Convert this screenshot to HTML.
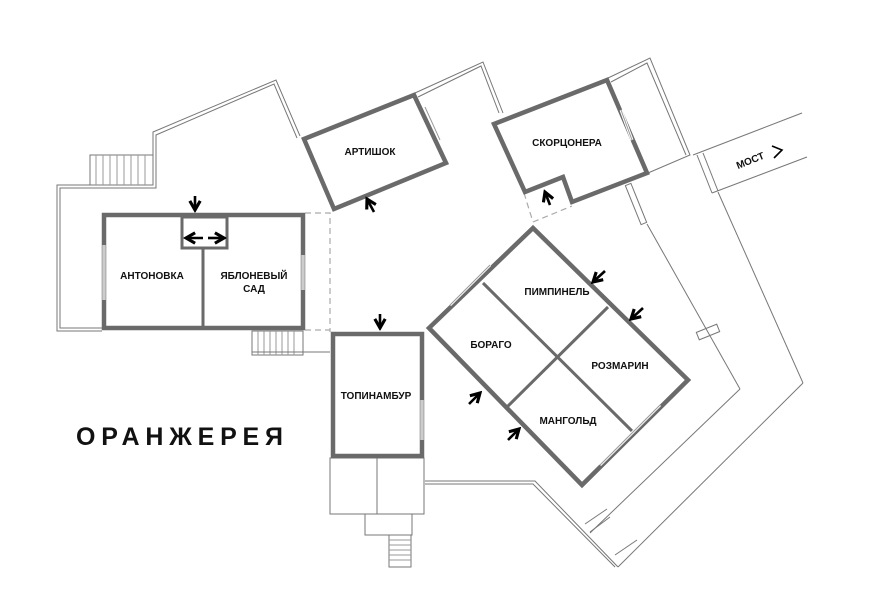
<!DOCTYPE html>
<html><head><meta charset="utf-8"><style>
html,body{margin:0;padding:0;background:#fff}
svg{display:block}
text{font-family:"Liberation Sans",sans-serif;font-weight:bold;fill:#111}
</style></head><body>
<svg width="888" height="606" viewBox="0 0 888 606" xmlns="http://www.w3.org/2000/svg">
<defs>
<marker id="ah" viewBox="0 0 10 10" refX="8" refY="5" markerWidth="5" markerHeight="5" orient="auto"><path d="M1,1 L8,5 L1,9" fill="none" stroke="#000" stroke-width="2.4"/></marker>
</defs>
<g fill="none" stroke="#777" stroke-width="1">
<polyline points="102,331 57,331 57,185 153,185 153,132 276,80 300,136"/>
<polyline points="102,328 60,328 60,188 156,188 156,135 274,84 297,138"/>
<rect x="90" y="155" width="63" height="30"/>
<g stroke="#999"><line x1="96" y1="155" x2="96" y2="185"/><line x1="103" y1="155" x2="103" y2="185"/><line x1="110" y1="155" x2="110" y2="185"/><line x1="117" y1="155" x2="117" y2="185"/><line x1="124" y1="155" x2="124" y2="185"/><line x1="131" y1="155" x2="131" y2="185"/><line x1="138" y1="155" x2="138" y2="185"/><line x1="145" y1="155" x2="145" y2="185"/></g>
<rect x="252" y="331" width="51" height="24"/>
<g stroke="#999"><line x1="258" y1="331" x2="258" y2="355"/><line x1="264" y1="331" x2="264" y2="355"/><line x1="270" y1="331" x2="270" y2="355"/><line x1="276" y1="331" x2="276" y2="355"/><line x1="282" y1="331" x2="282" y2="355"/><line x1="288" y1="331" x2="288" y2="355"/><line x1="294" y1="331" x2="294" y2="355"/></g>
<line x1="252" y1="352" x2="330" y2="352"/>
<polyline points="415,93 483,62 503,113"/>
<polyline points="418,97 481,66 499,113"/>
<polyline points="608,78 650,58 690,155 648,173"/>
<polyline points="611,82 647,63 686,155"/>
<line x1="693" y1="155" x2="802" y2="113"/>
<line x1="712" y1="193" x2="807" y2="157"/>
<line x1="697" y1="155" x2="712" y2="193"/>
<line x1="703" y1="153" x2="718" y2="191"/>
<rect x="633" y="183" width="6" height="42" transform="rotate(-22 636 204)"/>
<line x1="647" y1="224" x2="740" y2="389"/>
<line x1="718" y1="192" x2="803" y2="383"/>
<line x1="740" y1="389" x2="590" y2="533"/>
<rect x="697" y="328" width="22" height="8" transform="rotate(-22 708 332)"/>
<line x1="803" y1="383" x2="618" y2="567"/>
<polyline points="425,481 535,481 618,567"/>
<polyline points="425,484 533,484 615,567"/>
<line x1="585" y1="524" x2="607" y2="509"/><line x1="590" y1="532" x2="610" y2="517"/>
<line x1="615" y1="555" x2="637" y2="540"/>
<rect x="330" y="458" width="94" height="56"/>
<line x1="377" y1="458" x2="377" y2="514"/>
<polyline points="365,514 365,535 412,535 412,514"/>
<rect x="389" y="535" width="22" height="32"/>
<g stroke="#999"><line x1="389" y1="540" x2="411" y2="540"/><line x1="389" y1="545" x2="411" y2="545"/><line x1="389" y1="550" x2="411" y2="550"/><line x1="389" y1="555" x2="411" y2="555"/><line x1="389" y1="560" x2="411" y2="560"/></g>
</g>
<g fill="none" stroke="#aaa" stroke-width="1.2" stroke-dasharray="6,4">
<polyline points="305,213 330,213 330,332"/>
<line x1="305" y1="330" x2="330" y2="330"/>
<line x1="524" y1="193" x2="533" y2="222"/>
<line x1="533" y1="222" x2="572" y2="206"/>
</g>
<g fill="none" stroke="#6a6a6a" stroke-width="4.5">
<rect x="104" y="215" width="199" height="113"/>
<rect x="182" y="217" width="45" height="31" stroke-width="3"/>
<line x1="203" y1="249" x2="203" y2="328" stroke-width="3"/>
<polygon points="304,139 414,95 446,163 334,209"/>
<polygon points="494,124 607,80 647,173 572,202 563,177 525,192"/>
<rect x="333" y="334" width="89" height="122"/>
<polygon points="533,228 688,380 582,485 429,328"/>
<line x1="483" y1="283" x2="633" y2="432" stroke-width="3"/>
<line x1="608" y1="307" x2="507" y2="407" stroke-width="3"/>
</g>
<g stroke="#fff" stroke-width="3">
<line x1="104" y1="245" x2="104" y2="300"/>
<line x1="303" y1="255" x2="303" y2="290"/>
<line x1="425" y1="107" x2="440" y2="140"/>
<line x1="621" y1="110" x2="632" y2="140"/>
<line x1="422" y1="400" x2="422" y2="440"/>
<line x1="450" y1="305" x2="490" y2="265"/>
<line x1="600" y1="465" x2="660" y2="405"/>
</g>
<g stroke="#999" stroke-width="1">
<line x1="104" y1="245" x2="104" y2="300"/>
<line x1="303" y1="255" x2="303" y2="290"/>
<line x1="425" y1="107" x2="440" y2="140"/>
<line x1="621" y1="110" x2="632" y2="140"/>
<line x1="422" y1="400" x2="422" y2="440"/>
<line x1="450" y1="305" x2="490" y2="265"/>
<line x1="600" y1="465" x2="660" y2="405"/>
</g>
<g stroke="#000" stroke-width="2.6" fill="none" marker-end="url(#ah)">
<line x1="195" y1="196" x2="195" y2="210"/>
<line x1="203" y1="238" x2="186" y2="238"/>
<line x1="208" y1="238" x2="224" y2="238"/>
<line x1="374" y1="212" x2="367" y2="199"/>
<line x1="380" y1="314" x2="380" y2="328"/>
<line x1="550" y1="205" x2="545" y2="192"/>
<line x1="605" y1="271" x2="593" y2="282"/>
<line x1="643" y1="308" x2="631" y2="319"/>
<line x1="469" y1="404" x2="480" y2="393"/>
<line x1="508" y1="440" x2="519" y2="429"/>
</g>
<g font-size="10" text-anchor="middle">
<text x="152" y="279">АНТОНОВКА</text>
<text x="254" y="279">ЯБЛОНЕВЫЙ</text>
<text x="254" y="292">САД</text>
<text x="370" y="155">АРТИШОК</text>
<text x="567" y="146">СКОРЦОНЕРА</text>
<text x="557" y="295">ПИМПИНЕЛЬ</text>
<text x="491" y="348">БОРАГО</text>
<text x="620" y="369">РОЗМАРИН</text>
<text x="568" y="424">МАНГОЛЬД</text>
<text x="376" y="399">ТОПИНАМБУР</text>
<text x="750" y="164" transform="rotate(-22 750 160)">МОСТ</text>
</g>
<path d="M772,146 L782,150 L774,158" stroke="#000" stroke-width="1.6" fill="none"/>
<text x="76" y="445" font-size="25" textLength="207" lengthAdjust="spacing">ОРАНЖЕРЕЯ</text>
</svg>
</body></html>
